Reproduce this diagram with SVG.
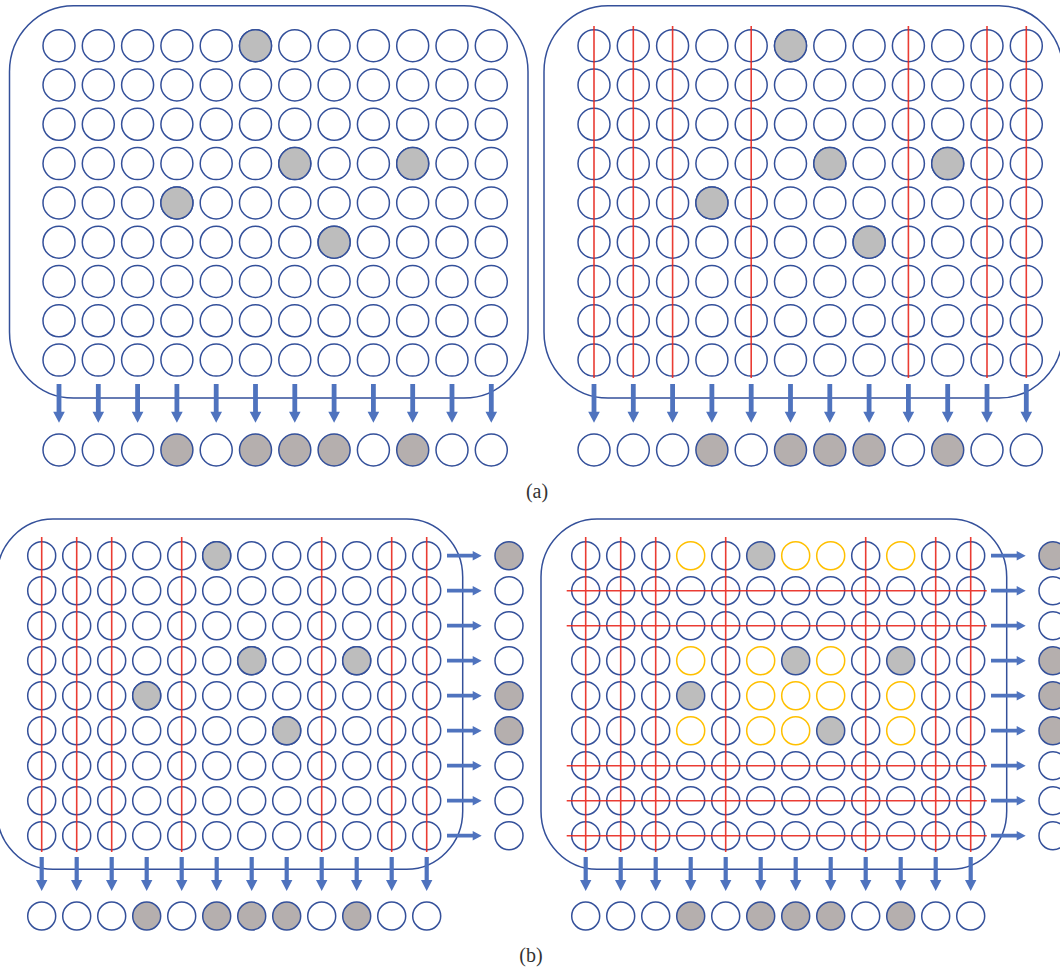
<svg xmlns="http://www.w3.org/2000/svg" xmlns:xlink="http://www.w3.org/1999/xlink" width="1060" height="970" viewBox="0 0 1060 970">
<style>
.c{fill:#fff;stroke:#34509A;stroke-width:1.5}
.g{fill:#BDBDBD;stroke:#34509A;stroke-width:1.5}
.o{fill:#B5AFAE;stroke:#34509A;stroke-width:1.5}
.y{fill:#fff;stroke:#FFC000;stroke-width:1.5}
.p{fill:none;stroke:#34509A;stroke-width:1.5}
.r{stroke:#E8281E;stroke-width:1.6;opacity:0.9}
.ar{fill:#4F73BE}
.lbl{font-family:"Liberation Serif",serif;font-size:20px;fill:#333;text-anchor:middle}
</style>
<defs>
<g id="rowA">
<circle class="c" cx="0" cy="0" r="16"/><circle class="c" cx="39.3" cy="0" r="16"/><circle class="c" cx="78.6" cy="0" r="16"/><circle class="c" cx="117.9" cy="0" r="16"/><circle class="c" cx="157.2" cy="0" r="16"/><circle class="c" cx="196.5" cy="0" r="16"/><circle class="c" cx="235.8" cy="0" r="16"/><circle class="c" cx="275.1" cy="0" r="16"/><circle class="c" cx="314.4" cy="0" r="16"/><circle class="c" cx="353.7" cy="0" r="16"/><circle class="c" cx="393" cy="0" r="16"/><circle class="c" cx="432.3" cy="0" r="16"/>
</g>
<g id="outA">
<circle class="c" cx="0" cy="0" r="16"/><circle class="c" cx="39.3" cy="0" r="16"/><circle class="c" cx="78.6" cy="0" r="16"/><circle class="o" cx="117.9" cy="0" r="16"/><circle class="c" cx="157.2" cy="0" r="16"/><circle class="o" cx="196.5" cy="0" r="16"/><circle class="o" cx="235.8" cy="0" r="16"/><circle class="o" cx="275.1" cy="0" r="16"/><circle class="c" cx="314.4" cy="0" r="16"/><circle class="o" cx="353.7" cy="0" r="16"/><circle class="c" cx="393" cy="0" r="16"/><circle class="c" cx="432.3" cy="0" r="16"/>
</g>
<g id="grayA">
<circle class="g" cx="196.5" cy="0" r="16"/>
<circle class="g" cx="235.8" cy="117.9" r="16"/><circle class="g" cx="353.7" cy="117.9" r="16"/>
<circle class="g" cx="117.9" cy="157.2" r="16"/>
<circle class="g" cx="275.1" cy="196.5" r="16"/>
</g>
<g id="rowB">
<circle class="c" cx="0" cy="0" r="14"/><circle class="c" cx="35" cy="0" r="14"/><circle class="c" cx="70" cy="0" r="14"/><circle class="c" cx="105" cy="0" r="14"/><circle class="c" cx="140" cy="0" r="14"/><circle class="c" cx="175" cy="0" r="14"/><circle class="c" cx="210" cy="0" r="14"/><circle class="c" cx="245" cy="0" r="14"/><circle class="c" cx="280" cy="0" r="14"/><circle class="c" cx="315" cy="0" r="14"/><circle class="c" cx="350" cy="0" r="14"/><circle class="c" cx="385" cy="0" r="14"/>
</g>
<g id="outB">
<circle class="c" cx="0" cy="0" r="14"/><circle class="c" cx="35" cy="0" r="14"/><circle class="c" cx="70" cy="0" r="14"/><circle class="o" cx="105" cy="0" r="14"/><circle class="c" cx="140" cy="0" r="14"/><circle class="o" cx="175" cy="0" r="14"/><circle class="o" cx="210" cy="0" r="14"/><circle class="o" cx="245" cy="0" r="14"/><circle class="c" cx="280" cy="0" r="14"/><circle class="o" cx="315" cy="0" r="14"/><circle class="c" cx="350" cy="0" r="14"/><circle class="c" cx="385" cy="0" r="14"/>
</g>
<g id="sideB">
<circle class="o" cx="0" cy="0" r="14"/><circle class="c" cx="0" cy="35" r="14"/><circle class="c" cx="0" cy="70" r="14"/><circle class="c" cx="0" cy="105" r="14"/><circle class="o" cx="0" cy="140" r="14"/><circle class="o" cx="0" cy="175" r="14"/><circle class="c" cx="0" cy="210" r="14"/><circle class="c" cx="0" cy="245" r="14"/><circle class="c" cx="0" cy="280" r="14"/>
</g>
<path id="adA" class="ar" d="M-2.4,0 H2.4 V27.7 H5.8 L0,38.7 L-5.8,27.7 H-2.4 Z"/>
<path id="adB" class="ar" d="M-2.1,0 H2.1 V23 H5.7 L0,34 L-5.7,23 H-2.1 Z"/>
<path id="arB" class="ar" d="M0,-1.9 H25.7 V-4.7 L34.7,0 L25.7,4.7 V1.9 H0 Z"/>
</defs>

<!-- (a) left -->
<g id="panel-a-left">
<rect class="p" x="9.5" y="5.7" width="518.5" height="392.3" rx="64" ry="66"/>
<use href="#rowA" x="59" y="45.7"/><use href="#rowA" x="59" y="85"/><use href="#rowA" x="59" y="124.3"/><use href="#rowA" x="59" y="163.6"/><use href="#rowA" x="59" y="202.9"/><use href="#rowA" x="59" y="242.2"/><use href="#rowA" x="59" y="281.5"/><use href="#rowA" x="59" y="320.8"/><use href="#rowA" x="59" y="360.1"/>
<use href="#grayA" x="59" y="45.7"/>
</g>
<g id="output-a-left"><use href="#outA" x="59" y="450"/></g>

<!-- (a) right -->
<g id="panel-a-right">
<rect class="p" x="544" y="5.7" width="519" height="392.3" rx="64" ry="66"/>
<use href="#rowA" x="594" y="45.7"/><use href="#rowA" x="594" y="85"/><use href="#rowA" x="594" y="124.3"/><use href="#rowA" x="594" y="163.6"/><use href="#rowA" x="594" y="202.9"/><use href="#rowA" x="594" y="242.2"/><use href="#rowA" x="594" y="281.5"/><use href="#rowA" x="594" y="320.8"/><use href="#rowA" x="594" y="360.1"/>
<use href="#grayA" x="594" y="45.7"/>
<g class="r">
<line x1="594" y1="26" x2="594" y2="378"/><line x1="633.3" y1="26" x2="633.3" y2="378"/><line x1="672.6" y1="26" x2="672.6" y2="378"/><line x1="751.2" y1="26" x2="751.2" y2="378"/><line x1="908.4" y1="26" x2="908.4" y2="378"/><line x1="987" y1="26" x2="987" y2="378"/><line x1="1026.3" y1="26" x2="1026.3" y2="378"/>
</g>
</g>
<g id="output-a-right"><use href="#outA" x="594" y="450"/></g>

<text class="lbl" x="537" y="498">(a)</text>

<!-- (b) left -->
<g id="panel-b-left">
<rect class="p" x="-3" y="519" width="465.7" height="350.3" rx="56" ry="58"/>
<use href="#rowB" x="41.7" y="555.7"/><use href="#rowB" x="41.7" y="590.7"/><use href="#rowB" x="41.7" y="625.7"/><use href="#rowB" x="41.7" y="660.7"/><use href="#rowB" x="41.7" y="695.7"/><use href="#rowB" x="41.7" y="730.7"/><use href="#rowB" x="41.7" y="765.7"/><use href="#rowB" x="41.7" y="800.7"/><use href="#rowB" x="41.7" y="835.7"/>
<circle class="g" cx="216.7" cy="555.7" r="14"/>
<circle class="g" cx="251.7" cy="660.7" r="14"/><circle class="g" cx="356.7" cy="660.7" r="14"/>
<circle class="g" cx="146.7" cy="695.7" r="14"/>
<circle class="g" cx="286.7" cy="730.7" r="14"/>
<g class="r">
<line x1="41.7" y1="537" x2="41.7" y2="852"/><line x1="76.7" y1="537" x2="76.7" y2="852"/><line x1="111.7" y1="537" x2="111.7" y2="852"/><line x1="181.7" y1="537" x2="181.7" y2="852"/><line x1="321.7" y1="537" x2="321.7" y2="852"/><line x1="391.7" y1="537" x2="391.7" y2="852"/><line x1="426.7" y1="537" x2="426.7" y2="852"/>
</g>
</g>
<g id="output-b-left-side"><use href="#sideB" x="509" y="555.7"/></g>
<g id="output-b-left-bottom"><use href="#outB" x="41.7" y="916"/></g>

<!-- (b) right -->
<g id="panel-b-right">
<rect class="p" x="541" y="519" width="465.7" height="350.3" rx="56" ry="58"/>
<g transform="translate(585.7,555.7)">
<circle class="c" cx="0" cy="0" r="14"/><circle class="c" cx="35" cy="0" r="14"/><circle class="c" cx="70" cy="0" r="14"/><circle class="y" cx="105" cy="0" r="14"/><circle class="c" cx="140" cy="0" r="14"/><circle class="g" cx="175" cy="0" r="14"/><circle class="y" cx="210" cy="0" r="14"/><circle class="y" cx="245" cy="0" r="14"/><circle class="c" cx="280" cy="0" r="14"/><circle class="y" cx="315" cy="0" r="14"/><circle class="c" cx="350" cy="0" r="14"/><circle class="c" cx="385" cy="0" r="14"/>
</g>
<use href="#rowB" x="585.7" y="590.7"/><use href="#rowB" x="585.7" y="625.7"/>
<g transform="translate(585.7,660.7)">
<circle class="c" cx="0" cy="0" r="14"/><circle class="c" cx="35" cy="0" r="14"/><circle class="c" cx="70" cy="0" r="14"/><circle class="y" cx="105" cy="0" r="14"/><circle class="c" cx="140" cy="0" r="14"/><circle class="y" cx="175" cy="0" r="14"/><circle class="g" cx="210" cy="0" r="14"/><circle class="y" cx="245" cy="0" r="14"/><circle class="c" cx="280" cy="0" r="14"/><circle class="g" cx="315" cy="0" r="14"/><circle class="c" cx="350" cy="0" r="14"/><circle class="c" cx="385" cy="0" r="14"/>
</g>
<g transform="translate(585.7,695.7)">
<circle class="c" cx="0" cy="0" r="14"/><circle class="c" cx="35" cy="0" r="14"/><circle class="c" cx="70" cy="0" r="14"/><circle class="g" cx="105" cy="0" r="14"/><circle class="c" cx="140" cy="0" r="14"/><circle class="y" cx="175" cy="0" r="14"/><circle class="y" cx="210" cy="0" r="14"/><circle class="y" cx="245" cy="0" r="14"/><circle class="c" cx="280" cy="0" r="14"/><circle class="y" cx="315" cy="0" r="14"/><circle class="c" cx="350" cy="0" r="14"/><circle class="c" cx="385" cy="0" r="14"/>
</g>
<g transform="translate(585.7,730.7)">
<circle class="c" cx="0" cy="0" r="14"/><circle class="c" cx="35" cy="0" r="14"/><circle class="c" cx="70" cy="0" r="14"/><circle class="y" cx="105" cy="0" r="14"/><circle class="c" cx="140" cy="0" r="14"/><circle class="y" cx="175" cy="0" r="14"/><circle class="y" cx="210" cy="0" r="14"/><circle class="g" cx="245" cy="0" r="14"/><circle class="c" cx="280" cy="0" r="14"/><circle class="y" cx="315" cy="0" r="14"/><circle class="c" cx="350" cy="0" r="14"/><circle class="c" cx="385" cy="0" r="14"/>
</g>
<use href="#rowB" x="585.7" y="765.7"/><use href="#rowB" x="585.7" y="800.7"/><use href="#rowB" x="585.7" y="835.7"/>
<g class="r">
<line x1="585.7" y1="537" x2="585.7" y2="852"/><line x1="620.7" y1="537" x2="620.7" y2="852"/><line x1="655.7" y1="537" x2="655.7" y2="852"/><line x1="725.7" y1="537" x2="725.7" y2="852"/><line x1="865.7" y1="537" x2="865.7" y2="852"/><line x1="935.7" y1="537" x2="935.7" y2="852"/><line x1="970.7" y1="537" x2="970.7" y2="852"/>
<line x1="566.7" y1="590.7" x2="986.7" y2="590.7"/><line x1="566.7" y1="625.7" x2="986.7" y2="625.7"/><line x1="566.7" y1="765.7" x2="986.7" y2="765.7"/><line x1="566.7" y1="800.7" x2="986.7" y2="800.7"/><line x1="566.7" y1="835.7" x2="986.7" y2="835.7"/>
</g>
</g>
<g id="output-b-right-side">
<circle class="o" cx="1053" cy="555.7" r="14"/><circle class="c" cx="1053" cy="590.7" r="14"/><circle class="c" cx="1053" cy="625.7" r="14"/><circle class="o" cx="1053" cy="660.7" r="14"/><circle class="o" cx="1053" cy="695.7" r="14"/><circle class="o" cx="1053" cy="730.7" r="14"/><circle class="c" cx="1053" cy="765.7" r="14"/><circle class="c" cx="1053" cy="800.7" r="14"/><circle class="c" cx="1053" cy="835.7" r="14"/>
</g>
<g id="output-b-right-bottom"><use href="#outB" x="585.7" y="916"/></g>

<text class="lbl" x="531" y="962">(b)</text>

<g id="connectors">
<use href="#adA" x="59" y="384"/><use href="#adA" x="98.3" y="384"/><use href="#adA" x="137.6" y="384"/><use href="#adA" x="176.9" y="384"/><use href="#adA" x="216.2" y="384"/><use href="#adA" x="255.5" y="384"/><use href="#adA" x="294.8" y="384"/><use href="#adA" x="334.1" y="384"/><use href="#adA" x="373.4" y="384"/><use href="#adA" x="412.7" y="384"/><use href="#adA" x="452" y="384"/><use href="#adA" x="491.3" y="384"/>
<use href="#adA" x="594" y="384"/><use href="#adA" x="633.3" y="384"/><use href="#adA" x="672.6" y="384"/><use href="#adA" x="711.9" y="384"/><use href="#adA" x="751.2" y="384"/><use href="#adA" x="790.5" y="384"/><use href="#adA" x="829.8" y="384"/><use href="#adA" x="869.1" y="384"/><use href="#adA" x="908.4" y="384"/><use href="#adA" x="947.7" y="384"/><use href="#adA" x="987" y="384"/><use href="#adA" x="1026.3" y="384"/>
<use href="#adB" x="41.7" y="857"/><use href="#adB" x="76.7" y="857"/><use href="#adB" x="111.7" y="857"/><use href="#adB" x="146.7" y="857"/><use href="#adB" x="181.7" y="857"/><use href="#adB" x="216.7" y="857"/><use href="#adB" x="251.7" y="857"/><use href="#adB" x="286.7" y="857"/><use href="#adB" x="321.7" y="857"/><use href="#adB" x="356.7" y="857"/><use href="#adB" x="391.7" y="857"/><use href="#adB" x="426.7" y="857"/>
<use href="#adB" x="585.7" y="857"/><use href="#adB" x="620.7" y="857"/><use href="#adB" x="655.7" y="857"/><use href="#adB" x="690.7" y="857"/><use href="#adB" x="725.7" y="857"/><use href="#adB" x="760.7" y="857"/><use href="#adB" x="795.7" y="857"/><use href="#adB" x="830.7" y="857"/><use href="#adB" x="865.7" y="857"/><use href="#adB" x="900.7" y="857"/><use href="#adB" x="935.7" y="857"/><use href="#adB" x="970.7" y="857"/>
<use href="#arB" x="447" y="555.7"/><use href="#arB" x="447" y="590.7"/><use href="#arB" x="447" y="625.7"/><use href="#arB" x="447" y="660.7"/><use href="#arB" x="447" y="695.7"/><use href="#arB" x="447" y="730.7"/><use href="#arB" x="447" y="765.7"/><use href="#arB" x="447" y="800.7"/><use href="#arB" x="447" y="835.7"/>
<use href="#arB" x="991" y="555.7"/><use href="#arB" x="991" y="590.7"/><use href="#arB" x="991" y="625.7"/><use href="#arB" x="991" y="660.7"/><use href="#arB" x="991" y="695.7"/><use href="#arB" x="991" y="730.7"/><use href="#arB" x="991" y="765.7"/><use href="#arB" x="991" y="800.7"/><use href="#arB" x="991" y="835.7"/>
</g>
</svg>
